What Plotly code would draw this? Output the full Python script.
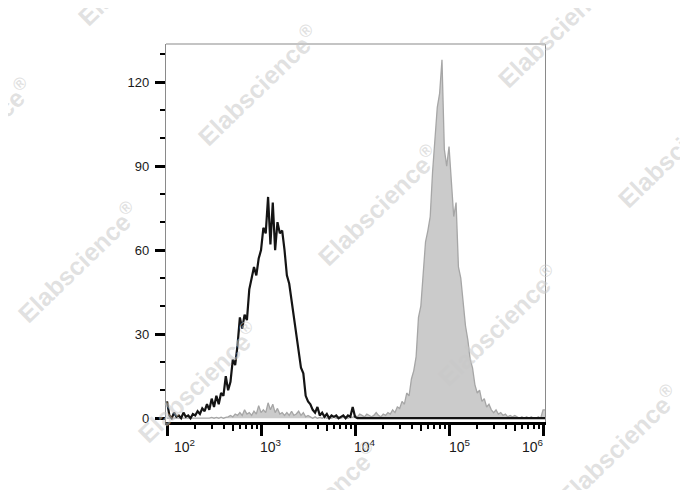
import math
import plotly.graph_objects as go

# ---------------- data ----------------
LOG_START = 2.0      # log10 of first bin centre
LOG_STEP = 0.025     # bin width in decades

# black open histogram (isotype / unstained)
black_counts = [
    6, 1, 0, 2, 0.5, 1, 0, 2, 0.5, 1,
    0, 1.5, 1, 2.5, 1.5, 3.5, 2.5, 5, 3, 7,
    4, 8, 5, 9, 8, 15, 10, 13, 21, 19,
    26, 36, 32, 37, 35, 46, 50, 54, 51, 57,
    60, 68, 66, 79, 62, 77, 60, 70, 66, 67,
    60, 51, 48, 42, 36, 31, 24, 18, 16, 8,
    6, 5, 3, 2, 4, 1, 2, 0.5, 1.5, 0,
    1, 0.5, 1, 0, 0.5, 1, 0, 1, 0.5, 4,
    0.5, 0,
    0, 0, 0, 0, 0, 0, 0, 0, 0, 0,
    0, 0, 0, 0, 0, 0, 0, 0, 0, 0,
    0, 0, 0, 0, 0, 0, 0, 0, 0, 0,
    0, 0, 0, 0, 0, 0, 0, 0, 0, 0,
    0, 0, 0, 0, 0, 0, 0, 0, 0, 0,
    0, 0, 0, 0, 0, 0, 0, 0, 0, 0,
    0, 0, 0, 0, 0, 0, 0, 0, 0, 0,
    0, 0, 0, 0, 0, 0, 0, 0, 0, 0,
]

# grey filled histogram (stained)
grey_counts = [
    0, 0, 0, 0, 0, 0, 0, 0, 0, 0,
    0, 0, 0, 0, 0, 0, 0, 0, 0, 0.3,
    0, 0.3, 0, 0.4, 0, 0.3, 0.5, 1, 0.5, 1.5,
    1, 2, 1, 3, 1.5, 2, 1, 2.5, 1.5, 4.5,
    2, 3, 2, 5.5, 3, 5, 2, 3.5, 1.5, 2,
    1, 2, 1, 2.5, 1, 1.5, 2.5, 1, 2, 0.5,
    1, 0.5, 0, 0.5, 0, 0.3, 0, 0.5, 0, 0.3,
    0, 0.5, 0, 0.3, 0, 0.5, 0.5, 0, 0.5, 0.3,
    1, 0.5, 1.5, 1, 0.5, 1.5, 1, 0.5, 1, 2,
    1, 0.5, 1.5, 1, 2, 1.5, 3, 2, 4, 3.5,
    6, 5, 9, 8, 14, 17, 22, 36, 40, 50,
    63, 67, 72, 88, 100, 111, 116, 128, 96, 90,
    97, 84, 72, 77, 54, 50, 40, 33, 28, 21,
    18, 12, 9, 10, 6, 7, 4, 5, 3, 2,
    3, 1.5, 2, 1, 1.5, 0.5, 1, 0.5, 1, 0.5,
    0, 0.5, 0, 0.5, 0, 0.5, 0, 0, 0.5, 0,
    3, 3,
]

y_major_ticks = [0, 30, 60, 90, 120]
x_major_ticks = [1e2, 1e3, 1e4, 1e5, 1e6]
x_label_text = ["10<sup>2</sup>", "10<sup>3</sup>", "10<sup>4</sup>", "10<sup>5</sup>", "10<sup>6</sup>"]
x_label_pos = [10**2.181, 10**3.106, 10**4.106, 10**5.117, 10**5.894]   # label centres (FlowJo offsets)
x_minor_ticks = [m * 10**k for k in (2, 3, 4, 5) for m in (2, 3, 4, 6, 7, 8, 9)]
x_mid_ticks = [5e2, 5e3, 5e4, 5e5]

watermark_centres = [(138, -35), (258, 85), (378, 205), (498, 325), (618, 445),
                     (-28, 138), (78, 262), (198, 382), (318, 502),
                     (558, 27), (678, 147)]

# ---------------- figure ----------------
def centres(n):
    return [10 ** (LOG_START + LOG_STEP * i) for i in range(n)]

fig = go.Figure()
fig.add_trace(go.Scatter(
    x=centres(len(grey_counts)), y=grey_counts, mode="lines",
    line=dict(color="#a6a6a6", width=1.3), fill="tozeroy", fillcolor="#cbcbcb",
    hoverinfo="skip", showlegend=False))
fig.add_trace(go.Scatter(
    x=centres(len(black_counts)), y=black_counts, mode="lines",
    line=dict(color="#141414", width=2.2),
    hoverinfo="skip", showlegend=False))
# invisible trace to anchor the overlay axis
fig.add_trace(go.Scatter(x=[1e3], y=[0], xaxis="x2", mode="markers",
                         marker=dict(opacity=0), hoverinfo="skip", showlegend=False))

OFF = 8  # page body margin of the browser
PL, PR, PT, PB = 166 - OFF, 545 - OFF, 44 - OFF, 422 - OFF
W, H = 688, 490
XR = [1.989, 6.021]

fig.update_layout(
    width=W, height=H,
    margin=dict(l=PL, r=W - PR, t=PT, b=H - PB),
    paper_bgcolor="white", plot_bgcolor="white",
    font=dict(family="Liberation Sans, Arial, sans-serif", size=13, color="#1a1a1a"),
    xaxis=dict(type="log", range=XR, showgrid=False, zeroline=False,
               showline=True, linecolor="black", linewidth=2.5,
               tickvals=x_major_ticks, ticks="outside", ticklen=11, tickwidth=3,
               tickcolor="black", showticklabels=False,
               minor=dict(tickvals=x_minor_ticks, ticks="outside", ticklen=4.5,
                          tickwidth=2, tickcolor="black")),
    xaxis2=dict(type="log", range=XR, overlaying="x", anchor="y", side="bottom",
                showgrid=False, zeroline=False, showline=False,
                tickvals=x_mid_ticks, ticks="outside", ticklen=8, tickwidth=2,
                tickcolor="black", showticklabels=False),
    yaxis=dict(range=[-1.35, 133.6], showgrid=False, zeroline=False,
               showline=True, linecolor="#8a8a8a", linewidth=1.2, mirror=True,
               tickvals=y_major_ticks, ticks="outside", ticklen=10, tickwidth=2.5,
               tickcolor="black", ticklabelstandoff=3,
               tickfont=dict(size=13, color="#1a1a1a"),
               minor=dict(dtick=10, tick0=0, ticks="outside", ticklen=5,
                          tickwidth=2, tickcolor="black")),
)

# top frame line
fig.add_shape(type="line", xref="paper", yref="paper", x0=0, x1=1, y0=1, y1=1,
              line=dict(color="#8a8a8a", width=1.2))

# x tick labels (placed like the FlowJo export)
for txt, xv in zip(x_label_text, x_label_pos):
    fig.add_annotation(x=math.log10(xv), y=0, xref="x", yref="paper",
                       text=txt, showarrow=False, yanchor="top", yshift=-13,
                       font=dict(size=14, color="#1a1a1a"))

# watermarks
pw, ph = PR - PL, PB - PT
for cx, cy in watermark_centres:
    fig.add_annotation(x=(cx - OFF - PL) / pw, y=(PB - (cy - OFF)) / ph,
                       xref="paper", yref="paper",
                       text="Elabscience<sup>®</sup>", showarrow=False, textangle=-44,
                       xanchor="center", yanchor="middle",
                       font=dict(family="Liberation Sans, Arial, sans-serif", size=25,
                                 color="rgba(200,200,200,0.55)", weight="bold"))

fig.write_html("out.html")
